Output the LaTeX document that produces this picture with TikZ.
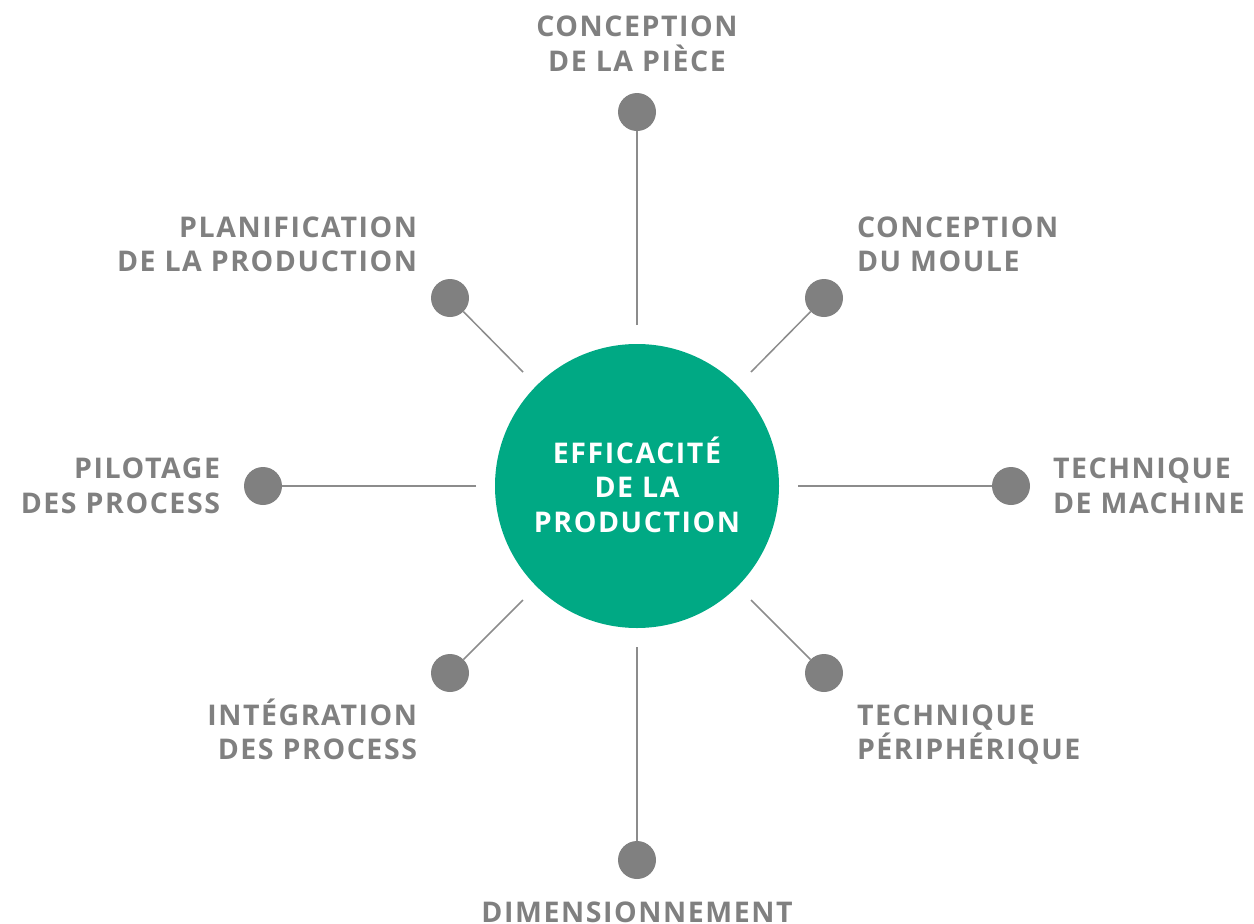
\documentclass[tikz,border=0pt]{standalone}
\usepackage{fontspec}
\setmainfont{Open Sans}[LetterSpace=5.5]
\definecolor{grn}{HTML}{00A984}
\definecolor{gry}{HTML}{808080}
\definecolor{lgry}{HTML}{8C8C8C}
\begin{document}
\begin{tikzpicture}[x=1pt,y=-1pt,
  lbl/.style={inner sep=0pt, outer sep=0pt, font=\fontsize{28.5}{34}\selectfont\bfseries, text=gry},
  ctr/.style={inner sep=0pt, outer sep=0pt, font=\fontsize{28.5}{34}\selectfont\bfseries, text=white, anchor=base},
  dot/.style={circle, fill=gry, minimum size=38pt, inner sep=0pt, outer sep=0pt},
  hub/.style={circle, fill=grn, minimum size=284pt, inner sep=0pt},
  spoke/.style={draw=lgry, line width=1.5pt}]
\useasboundingbox (0,0) rectangle (1254,924);
\clip (0,0) rectangle (1254,924);
% hub
\node[hub] (c) at (637,486) {};
\node[ctr] (c1) at (637,463) {EFFICACITÉ};
\node[ctr] (c2) at (637,497.5) {DE LA};
\node[ctr] (c3) at (637,532) {PRODUCTION};
% spoke starts
\coordinate (s1) at (637,325);
\coordinate (s2) at (751,372);
\coordinate (s3) at (798,486);
\coordinate (s4) at (751,600);
\coordinate (s5) at (637,647);
\coordinate (s6) at (523,600);
\coordinate (s7) at (476,486);
\coordinate (s8) at (523,372);
% dots
\node[dot] (d1) at (637,112) {};
\node[dot] (d2) at (824,298) {};
\node[dot] (d3) at (1011,486) {};
\node[dot] (d4) at (824,673) {};
\node[dot] (d5) at (637,860) {};
\node[dot] (d6) at (450,673) {};
\node[dot] (d7) at (263,486) {};
\node[dot] (d8) at (450,298) {};
% spokes
\foreach \i in {1,...,8} {\draw[spoke] (s\i) -- (d\i);}
% labels
\node[lbl, anchor=base] (t1a) at (637,36.5) {CONCEPTION};
\node[lbl, anchor=base] (t1b) at (637,71) {DE LA PIÈCE};
\node[lbl, anchor=base west] (t2a) at (857,237) {CONCEPTION};
\node[lbl, anchor=base west] (t2b) at (857,271.5) {DU MOULE};
\node[lbl, anchor=base west] (t3a) at (1053,478.5) {TECHNIQUE};
\node[lbl, anchor=base west] (t3b) at (1053,513) {DE MACHINE};
\node[lbl, anchor=base west] (t4a) at (857,725) {TECHNIQUE};
\node[lbl, anchor=base west] (t4b) at (857,759.5) {PÉRIPHÉRIQUE};
\node[lbl, anchor=base] (t5a) at (637,922) {DIMENSIONNEMENT};
\node[lbl, anchor=base east] (t6a) at (417,725) {INTÉGRATION};
\node[lbl, anchor=base east] (t6b) at (417,759.5) {DES PROCESS};
\node[lbl, anchor=base east] (t7a) at (220,478.5) {PILOTAGE};
\node[lbl, anchor=base east] (t7b) at (220,513) {DES PROCESS};
\node[lbl, anchor=base east] (t8a) at (417,237) {PLANIFICATION};
\node[lbl, anchor=base east] (t8b) at (417,271.5) {DE LA PRODUCTION};
\end{tikzpicture}
\end{document}
